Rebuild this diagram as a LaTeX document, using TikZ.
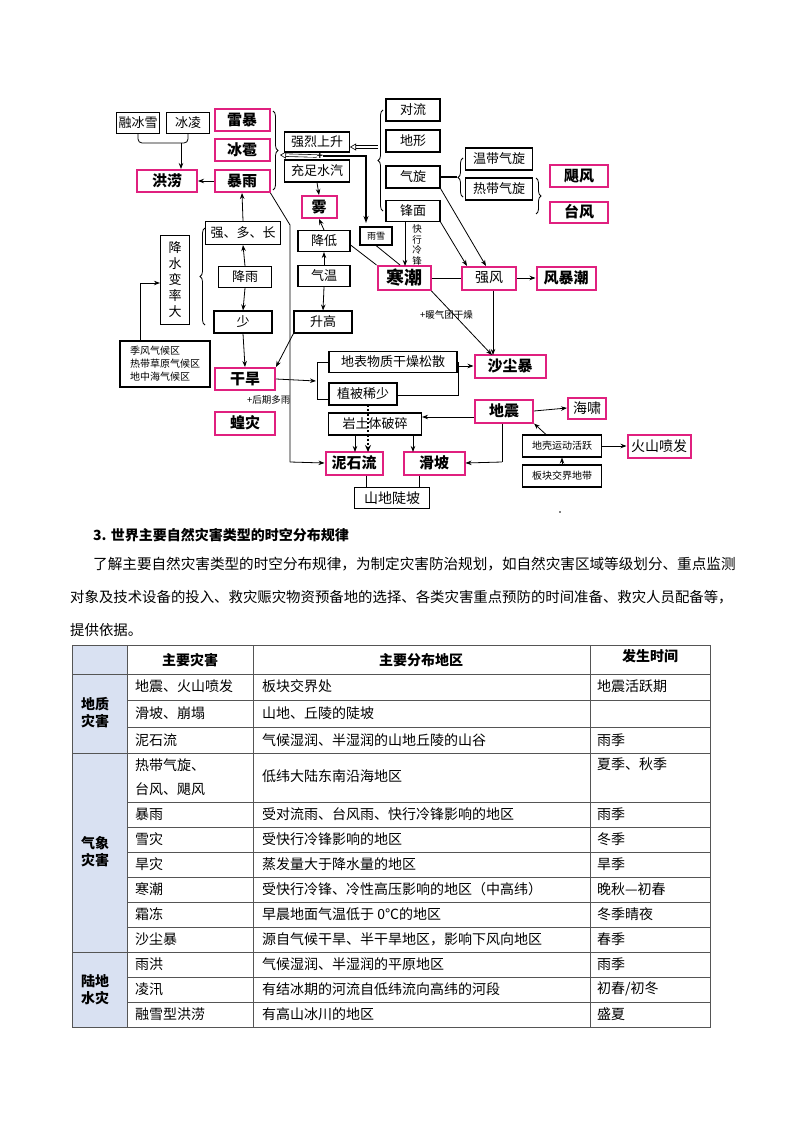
\documentclass[tikz,border=0pt]{standalone}
\usepackage{fontspec}
\setmainfont{Noto Sans CJK SC}
\usetikzlibrary{arrows.meta,decorations.pathreplacing}
\definecolor{pk}{HTML}{E0207F}
\definecolor{tb}{HTML}{D9E1F2}
\definecolor{tl}{HTML}{555555}
\begin{document}
\begin{tikzpicture}[x=1pt,y=-1pt,
  bx/.style={draw, line width=1.1pt, inner sep=0pt, font=\fontsize{13}{13}\selectfont},
  pb/.style={draw=pk, line width=2pt, inner sep=0pt, font=\fontsize{15}{15}\selectfont\bfseries},
  pn/.style={draw=pk, line width=2pt, inner sep=0pt, font=\fontsize{14}{14}\selectfont},
  wh/.style 2 args={minimum width=#1, minimum height=#2},
  ar/.style={-{Stealth[length=6pt,width=4.5pt]}, line width=0.8pt},
  ln/.style={line width=0.8pt},
  hol/.style={double=white, double distance=2pt, line width=0.6pt, -{Triangle[open,length=6pt,width=7pt]}},
  brr/.style={decorate, decoration={brace, amplitude=5pt}, line width=0.8pt},
  sm/.style={inner sep=0pt, font=\fontsize{9.5}{11}\selectfont},
  tx/.style={anchor=west, inner sep=0pt, font=\fontsize{14}{14}\selectfont},
  th/.style={inner sep=0pt, font=\fontsize{14}{14}\selectfont\bfseries}
]
\fill[white] (0,0) rectangle (800,1132);
% ---------- diagram nodes ----------
\node[bx, wh={43}{21}] (rbx) at (138,123) {融冰雪};
\node[bx, wh={43}{21}] (bl) at (188,123) {冰凌};
\node[pb, wh={55}{22}] (lb) at (242,120) {雷暴};
\node[pb, wh={55}{22}] (bb) at (242,150) {冰雹};
\node[pb, wh={55}{22}] (by) at (242,181) {暴雨};
\node[pb, wh={60}{22}] (hl) at (167,181) {洪涝};
\node[bx, wh={65}{20}] (qrss) at (317,142) {强烈上升};
\node[inner sep=0pt, font=\bfseries] (plus) at (320,156) {+};
\node[bx, wh={65}{22}] (czsq) at (317,171) {充足水汽};
\node[pb, wh={35}{22}] (wu) at (319,207) {雾};
\node[bx, wh={52}{21}] (jd) at (324,241) {降低};
\node[bx, wh={52}{21}] (qw) at (324,276) {气温};
\node[bx, wh={58}{22}] (sg) at (323,322) {升高};
\node[bx, wh={75}{23}] (qdc) at (243,233) {强、多、长};
\node[bx, wh={53}{21}] (jy) at (245,277) {降雨};
\node[bx, wh={58}{22}] (shao) at (243,322) {少};
\node[bx, wh={29}{89}, align=center, font=\fontsize{13}{16}\selectfont] (jsbl) at (175,280) {降\\水\\变\\率\\大};
\node[bx, wh={90}{46}, align=left, font=\fontsize{10}{13}\selectfont] (jfq) at (165,364) {季风气候区\\热带草原气候区\\地中海气候区};
\node[pb, wh={60}{22}] (gh) at (245,379) {干旱};
\node[sm, anchor=west] (hqdy) at (247,400) {+后期多雨};
\node[pb, wh={60}{23}] (hz) at (245,423) {蝗灾};
\node[bx, wh={54}{22}] (dl) at (413,110) {对流};
\node[bx, wh={54}{22}] (dx) at (413,141) {地形};
\node[bx, wh={54}{22}] (qx) at (413,177) {气旋};
\node[bx, wh={54}{21}] (fm) at (413,211) {锋面};
\node[bx, wh={67}{22}] (wdqx) at (499,159) {温带气旋};
\node[bx, wh={67}{22}] (rdqx) at (499,189) {热带气旋};
\node[pb, wh={58}{22}] (jf) at (579,176) {飓风};
\node[pb, wh={58}{21}] (tf) at (579,212) {台风};
\node[bx, wh={32}{18}, font=\fontsize{9}{9}\selectfont] (yx) at (376,236) {雨雪};
\node[sm, align=center, font=\fontsize{9.5}{10.5}\selectfont] (kxlf) at (417,245) {快\\行\\冷\\锋};
\node[pb, wh={53}{24}, font=\fontsize{18}{18}\selectfont\bfseries] (hc) at (404,278) {寒潮};
\node[pn, wh={54}{23}] (qf) at (489,278) {强风};
\node[pb, wh={59}{23}] (fbc) at (566,278) {风暴潮};
\node[sm, anchor=west] (nqt) at (420,315) {+暖气团干燥};
\node[bx, wh={128}{21}] (dbwz) at (393,362) {地表物质干燥松散};
\node[bx, wh={68}{22}] (zb) at (363,394) {植被稀少};
\node[pb, wh={71}{23}] (scb) at (510,366) {沙尘暴};
\node[pb, wh={58}{23}] (dz) at (504,411) {地震};
\node[pn, wh={38}{21}] (hx) at (587,408) {海啸};
\node[bx, wh={93}{22}] (ytt) at (375,424) {岩土体破碎};
\node[pb, wh={57}{23}] (nsl) at (354,463) {泥石流};
\node[pb, wh={61}{23}] (hp) at (434,463) {滑坡};
\node[draw, line width=1.8pt, inner sep=0pt, wh={75}{21}, font=\fontsize{14}{14}\selectfont] (sdp) at (392,498) {山地陡坡};
\node[bx, wh={79}{22}, font=\fontsize{10}{10}\selectfont] (dkyd) at (562,446) {地壳运动活跃};
\node[pn, wh={63}{23}] (hspf) at (659,446) {火山喷发};
\node[bx, wh={79}{22}, font=\fontsize{10}{10}\selectfont] (bkjj) at (562,476) {板块交界地带};
\fill (560,512) circle (0.8);
% ---------- connectors ----------
\draw[ln, rounded corners=4pt] (rbx.south) -- (138,143) -- (188,143) -- (bl.south);
\coordinate (bj) at (181,143);
\draw[ar] (bj) -- (bj |- hl.north);
\draw[ar] (by.west) -- (hl.east);
\draw[brr] (273,111) -- (273,190);
\coordinate (brt) at (280,155);
\draw[hol] (plus.west) -- (brt);
\draw[brr] (383,211) -- (383,110);
\coordinate (brl) at (378,147);
\draw[hol] (brl) -- (qrss.east |- brl);
\draw[line width=1.8pt, -{Stealth[length=7pt,width=5pt]}] (plus.east) -- (366,156) -- (366,223);
\draw[ar] (czsq.south) -- (wu.north);
\draw[ar] (jd.north) -- (wu.south);
\draw[ar] (qw.north) -- (jd.south);
\draw[ar] (qw.south) -- (sg.north);
\draw[ln] (jd.east) ++(0,4) -- (hc.north west);
\draw[ln] (yx.south) -- ([xshift=-4pt]hc.north);
\draw[ar] (405,222) -- (405,266);
\draw[ar] (fm.south east) -- (467,266);
\draw[ar] (qx.south east) -- (486,266);
\draw[line width=1.5pt] (qx.east) -- (457,177);
\draw[brr] (463,197) -- (463,158);
\draw[brr] (536,178) -- (536,214);
\draw[ln] (hc.east) -- (qf.west);
\draw[ar] (qf.east) -- (fbc.west);
\draw[ar] (hc.south east) -- (492,355);
\draw[ar] (qf.south -| 493,0) -- (493,355);
\draw[ln] (by.south east) -- (290,225) -- (290,462);
\draw[ar] (290,462) -- (nsl.west);
\draw[ar] (jy.north) -- (qdc.south);
\draw[ar] (qdc.north) -- (by.south);
\draw[ar] (jy.south) -- (shao.north);
\draw[ar] (shao.south) -- (gh.north);
\draw[ar] (sg.south west) -- (gh.north east);
\draw[brr] (205,325) -- (205,228);
\draw[ln] (jfq.north -| 140,0) -- (140,283);
\draw[ar] (140,283) -- (jsbl.west |- 0,283);
\draw[ar] (gh.east) -- (316,381);
\draw[ln] (dbwz.west) -- (317,362) -- (317,399) -- (zb.west |- 0,399);
\draw[ln] (dbwz.east) -- (458,362) -- (458,395) -- (zb.east |- 0,395);
\draw[ar] (458,366) -- (scb.west);
\draw[line width=2.2pt, dotted, -{Stealth[length=7pt,width=6pt]}] (368,405) -- (368,452);
\draw[ar] (ytt.south -| 355,0) -- (355,452);
\draw[ar] (ytt.south -| 413,0) -- (413,452);
\draw[ar] (dz.west |- 0,417) -- (ytt.east |- 0,417);
\draw[ln] (dz.south -| 502,0) -- (502,462);
\draw[ar] (502,462) -- (hp.east);
\draw[ar] (dz.east) -- (hx.west);
\draw[ar] (dkyd.north west) ++(24,0) -- (dz.south east);
\draw[ar] (dkyd.east) -- (hspf.west);
\draw[ar] (bkjj.north) -- (dkyd.south);
\draw[ln] (nsl.south -| 366,0) -- (366,487);
\draw[ln] (hp.south -| 419,0) -- (419,487);
% ---------- text ----------
\node[anchor=west, inner sep=0pt, font=\fontsize{14}{14}\selectfont\bfseries] (hd) at (93,535) {3. 世界主要自然灾害类型的时空分布规律};
\node[tx, font=\fontsize{14.6}{14.6}\selectfont] (p1) at (93,564) {了解主要自然灾害类型的时空分布规律，为制定灾害防治规划，如自然灾害区域等级划分、重点监测};
\node[tx, font=\fontsize{14.4}{14.4}\selectfont] (p2) at (70,597) {对象及技术设备的投入、救灾赈灾物资预备地的选择、各类灾害重点预防的时间准备、救灾人员配备等，};
\node[tx, font=\fontsize{14.4}{14.4}\selectfont] (p3) at (70,630) {提供依据。};
% ---------- table ----------
\fill[tb] (72,645) rectangle (127,1027);
\draw[tl, line width=0.9pt] (72,645) rectangle (710,1027);
\foreach \xx in {127,253,590} \draw[tl, line width=0.9pt] (\xx,645) -- (\xx,1027);
\foreach \yy in {674,753,952} \draw[tl, line width=0.9pt] (72,\yy) -- (710,\yy);
\foreach \yy in {700,727,802,827,852,877,902,927,977,1002} \draw[tl, line width=0.9pt] (127,\yy) -- (710,\yy);
\node[th] (h1) at (190,660) {主要灾害};
\node[th] (h2) at (421,660) {主要分布地区};
\node[th] (h3) at (650,656) {发生时间};
\node[th, align=center, font=\fontsize{14}{17}\selectfont\bfseries] (g1) at (95,713) {地质\\灾害};
\node[th, align=center, font=\fontsize{14}{17}\selectfont\bfseries] (g2) at (95,852) {气象\\灾害};
\node[th, align=center, font=\fontsize{14}{17}\selectfont\bfseries] (g3) at (95,990) {陆地\\水灾};
\node[tx] at (135,686) {地震、火山喷发};
\node[tx] at (262,686) {板块交界处};
\node[tx] at (597,686) {地震活跃期};
\node[tx] at (135,713) {滑坡、崩塌};
\node[tx] at (262,713) {山地、丘陵的陡坡};
\node[tx] at (135,740) {泥石流};
\node[tx] at (262,740) {气候湿润、半湿润的山地丘陵的山谷};
\node[tx] at (597,740) {雨季};
\node[tx] at (135,765) {热带气旋、};
\node[tx] at (135,789) {台风、飓风};
\node[tx] at (262,776) {低纬大陆东南沿海地区};
\node[tx] at (597,764) {夏季、秋季};
\node[tx] at (135,814) {暴雨};
\node[tx] at (262,814) {受对流雨、台风雨、快行冷锋影响的地区};
\node[tx] at (597,814) {雨季};
\node[tx] at (135,839) {雪灾};
\node[tx] at (262,839) {受快行冷锋影响的地区};
\node[tx] at (597,839) {冬季};
\node[tx] at (135,864) {旱灾};
\node[tx] at (262,864) {蒸发量大于降水量的地区};
\node[tx] at (597,864) {旱季};
\node[tx] at (135,889) {寒潮};
\node[tx] at (262,889) {受快行冷锋、冷性高压影响的地区（中高纬）};
\node[tx] at (597,889) {晚秋—初春};
\node[tx] at (135,914) {霜冻};
\node[tx] at (262,914) {早晨地面气温低于 0℃的地区};
\node[tx] at (597,914) {冬季晴夜};
\node[tx] at (135,939) {沙尘暴};
\node[tx] at (262,939) {源自气候干旱、半干旱地区，影响下风向地区};
\node[tx] at (597,939) {春季};
\node[tx] at (135,964) {雨洪};
\node[tx] at (262,964) {气候湿润、半湿润的平原地区};
\node[tx] at (597,964) {雨季};
\node[tx] at (135,989) {凌汛};
\node[tx] at (262,989) {有结冰期的河流自低纬流向高纬的河段};
\node[tx] at (597,989) {初春/初冬};
\node[tx] at (135,1014) {融雪型洪涝};
\node[tx] at (262,1014) {有高山冰川的地区};
\node[tx] at (597,1014) {盛夏};
\end{tikzpicture}
\end{document}
